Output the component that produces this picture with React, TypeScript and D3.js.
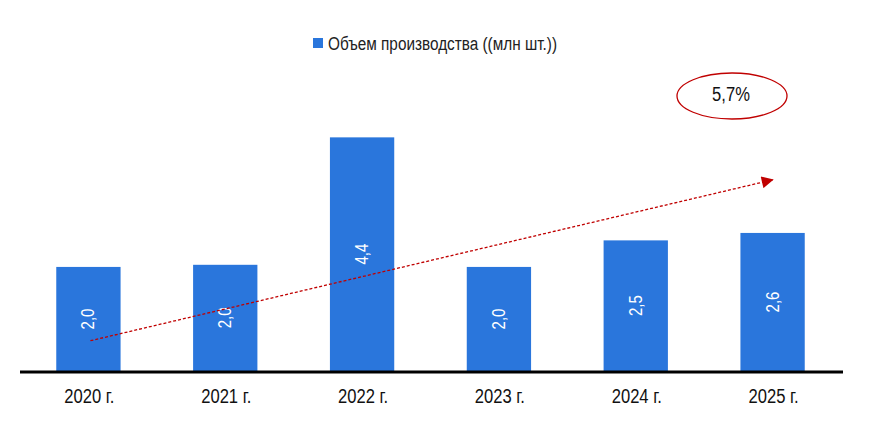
import React from "react";
import * as d3 from "d3";

const categories = ["2020 г.", "2021 г.", "2022 г.", "2023 г.", "2024 г.", "2025 г."];
const values = [1.96, 2.0, 4.4, 1.96, 2.46, 2.6];
const seriesName = "Объем производства ((млн шт.))";
const growthLabel = "5,7%";
// trend arrow in data units: [category index, value]
const arrowStart = [0, 0.57];
const arrowEnd = [5, 3.6];

const W = 876;
const H = 444;
const FONT = "'Liberation Sans', Arial, sans-serif";
const BAR = "#2a76dc";
const RED = "#c00000";
const SX = 0.79;

function NText(props: { x: number; y: number; size: number; fill: string; children: any; anchor?: string; rotate?: number }) {
  const { x, y, size, fill, children, anchor = "middle", rotate = 0 } = props;
  return (
    <g transform={`translate(${x},${y}) rotate(${rotate}) scale(${SX},1)`}>
      <text x={0} y={0} textAnchor={anchor} fontFamily={FONT} fontSize={size} fill={fill}>
        {children}
      </text>
    </g>
  );
}

export default function App() {
  const x = d3.scaleBand<string>().domain(categories).range([20, 841]).paddingInner(0.53).paddingOuter(0.265);
  const y = d3.scaleLinear().domain([0, 5]).range([371, 105.5]);
  const cx = (i: number) => (x(categories[i]) as number) + x.bandwidth() / 2;
  const fmt = (v: number) => v.toFixed(1).replace(".", ",");
  return (
    <svg width={W} height={H} style={{ position: "absolute", left: 0, top: 0, background: "#fff" }}>
      <defs>
        <marker id="ah" viewBox="0 0 10 10" refX="9" refY="5" markerWidth="14" markerHeight="12" markerUnits="userSpaceOnUse" orient="auto">
          <path d="M0,0 L10,5 L0,10 z" fill={RED} />
        </marker>
      </defs>
      {/* legend */}
      <rect x={313} y={38} width={10} height={10} fill={BAR} />
      <text x={328} y={50} fontFamily={FONT} fontSize={18} fill="#222" textLength={229} lengthAdjust="spacingAndGlyphs">
        {seriesName}
      </text>
      {/* bars */}
      {values.map((v, i) => (
        <rect key={i} x={x(categories[i])} y={y(v)} width={x.bandwidth()} height={y(0) - y(v)} fill={BAR} />
      ))}
      {/* bar labels */}
      {values.map((v, i) => (
        <NText key={i} x={cx(i) + 6} y={(y(v) + y(0)) / 2} size={19} fill="#fff" rotate={-90}>
          {fmt(v)}
        </NText>
      ))}
      {/* trend arrow */}
      <line
        x1={cx(arrowStart[0]) + 2}
        y1={y(arrowStart[1])}
        x2={cx(arrowEnd[0])}
        y2={y(arrowEnd[1])}
        stroke={RED}
        strokeWidth={1.3}
        strokeDasharray="3,2"
        markerEnd="url(#ah)"
      />
      {/* axis */}
      <line x1={20} x2={843} y1={372} y2={372} stroke="#000" strokeWidth={3} />
      {categories.map((c, i) => (
        <NText key={c} x={cx(i) + 1} y={403} size={21} fill="#111">
          {c}
        </NText>
      ))}
      {/* growth ellipse */}
      <ellipse cx={732} cy={96} rx={55} ry={23} fill="#fff" stroke={RED} strokeWidth={1.3} />
      <NText x={731} y={101} size={21} fill="#111">
        {growthLabel}
      </NText>
    </svg>
  );
}
